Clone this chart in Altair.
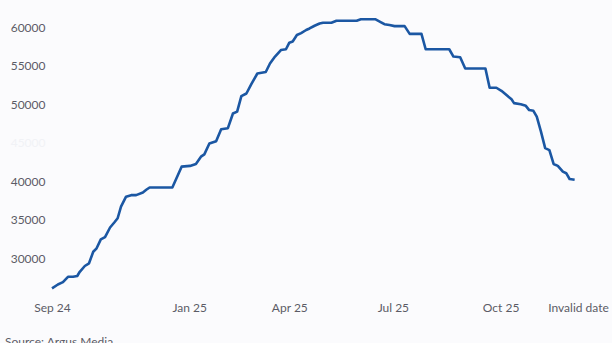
import altair as alt
import pandas as pd

# week offset from first observation, and value
weeks = [0, 0.7, 1.3, 1.9, 2.5, 3.0, 3.3, 3.9, 4.4, 4.9, 5.3, 5.8, 6.3, 6.9, 7.4, 7.8, 8.2, 8.8, 9.4, 10.0,
         10.8, 11.2, 11.6, 14.3, 15.4, 16.4, 17.1, 17.7, 18.1, 18.7, 19.5, 20.1, 20.9, 21.5, 22.0, 22.5, 23.1,
         23.7, 24.4, 25.4, 25.9, 26.5, 27.2, 27.8, 28.2, 28.6, 29.1, 29.6, 30.2, 30.6, 31.2, 31.8, 32.2, 33.2,
         33.8, 36.2, 36.7, 38.4, 39.1, 39.5, 40.1, 40.7, 41.9, 42.5, 43.9, 44.4, 47.2, 47.7, 48.5, 49.1, 51.5,
         52.0, 52.8, 53.4, 54.0, 54.6, 54.9, 55.7, 56.3, 56.7, 57.2, 57.6, 58.1, 58.6, 59.1, 59.6, 60.1, 60.7,
         61.1, 61.5, 62.1]
values = [26100, 26600, 26900, 27600, 27600, 27700, 28250, 29000, 29350, 30850, 31300, 32450, 32750, 34000,
          34650, 35200, 36700, 38000, 38200, 38200, 38550, 38900, 39200, 39200, 41900, 42000, 42250, 43200,
          43500, 44900, 45200, 46750, 46900, 48800, 49050, 51050, 51400, 52650, 54000, 54200, 55300, 56200,
          57050, 57150, 58000, 58150, 59000, 59250, 59650, 59850, 60200, 60500, 60600, 60600, 60850, 60850,
          61050, 61050, 60650, 60400, 60300, 60150, 60150, 59150, 59150, 57150, 57150, 56200, 56100, 54650,
          54650, 52150, 52150, 51750, 51200, 50650, 50150, 50000, 49800, 49250, 49150, 48400, 46450, 44300,
          44050, 42250, 42000, 41250, 41050, 40300, 40200]

tick_weeks = [0, 16.3, 28.2, 40.5, 53.3, 62.5]
tick_labels = ["Sep 24", "Jan 25", "Apr 25", "Jul 25", "Oct 25", "Invalid date"]
y_ticks = [30000, 35000, 40000, 45000, 50000, 55000, 60000]
source_text = "Source: Argus Media"

df = pd.DataFrame({"week": weeks, "value": values})

label_expr = "''"
for w, l in reversed(list(zip(tick_weeks, tick_labels))):
    label_expr = f"abs(datum.value - {w}) < 0.01 ? '{l}' : ({label_expr})"

FONT = "Lato"
GRAY = "#5b5b66"

line = alt.Chart(df).mark_line(color="#1b57a3", strokeWidth=2.6, strokeJoin="round").encode(
    x=alt.X("week:Q", scale=alt.Scale(domain=[0, 62.5], nice=False, zero=False),
            axis=alt.Axis(values=tick_weeks, labelExpr=label_expr, title=None, grid=False,
                          domain=False, ticks=False, tickSize=0, labelPadding=10,
                          labelFont=FONT, labelFontSize=12, labelColor=GRAY,
                          labelOverlap=False, labelFlush=False)),
    y=alt.Y("value:Q", scale=alt.Scale(domain=[25623, 61597], nice=False, zero=False),
            axis=alt.Axis(values=y_ticks, format="d", title=None, grid=False, domain=False, ticks=False,
                          tickSize=0, labelPadding=7, labelFont=FONT, labelFontSize=12,
                          labelColor={"condition": {"test": "datum.value === 45000", "value": "#f1f2f6"},
                                      "value": GRAY})),
)

src = alt.Chart(pd.DataFrame({"t": [source_text]})).mark_text(
    align="left", baseline="alphabetic", font=FONT, fontSize=12, color=GRAY
).encode(text="t:N", x=alt.value(-47), y=alt.value(331))

chart = alt.layer(line, src).properties(
    width=526, height=277,
    padding={"left": 52, "top": 15, "right": 34, "bottom": 51},
    autosize=alt.AutoSizeParams(type="none"),
    background="#fbfbfd",
).configure_view(stroke=None)

chart.save("out.html", embed_options={"renderer": "svg", "actions": False})
